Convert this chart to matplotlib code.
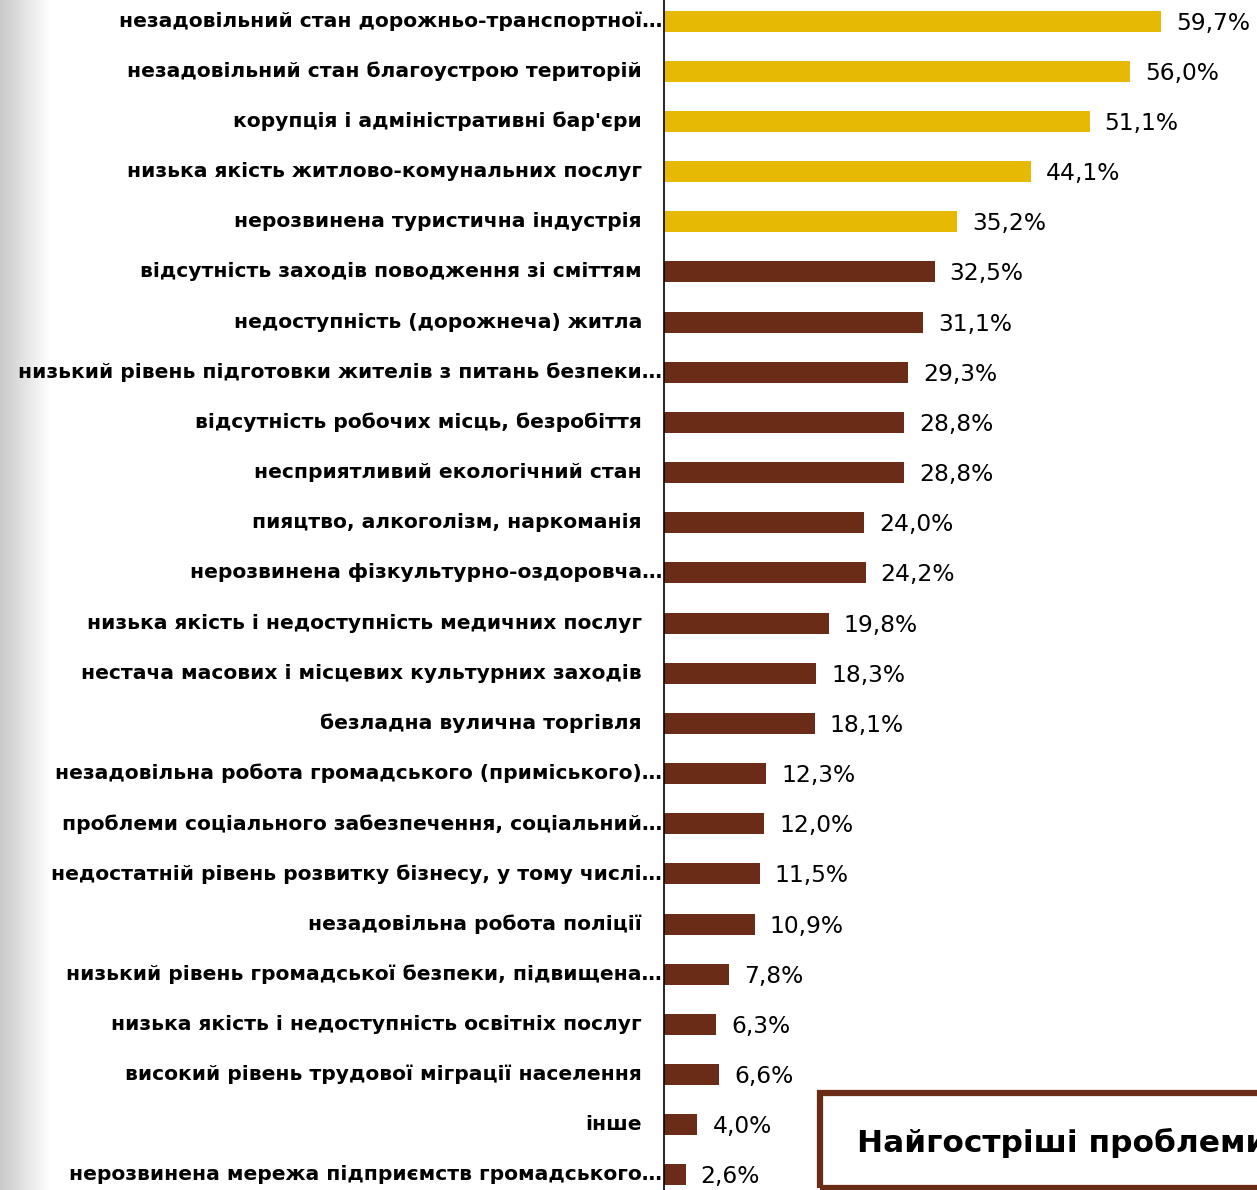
import numpy as np
import matplotlib.pyplot as plt
from matplotlib.patches import Rectangle

labels = [
    "незадовільний стан дорожньо-транспортної…",
    "незадовільний стан благоустрою територій",
    "корупція і адміністративні бар'єри",
    "низька якість житлово-комунальних послуг",
    "нерозвинена туристична індустрія",
    "відсутність заходів поводження зі сміттям",
    "недоступність (дорожнеча) житла",
    "низький рівень підготовки жителів з питань безпеки…",
    "відсутність робочих місць, безробіття",
    "несприятливий екологічний стан",
    "пияцтво, алкоголізм, наркоманія",
    "нерозвинена фізкультурно-оздоровча…",
    "низька якість і недоступність медичних послуг",
    "нестача масових і місцевих культурних заходів",
    "безладна вулична торгівля",
    "незадовільна робота громадського (приміського)…",
    "проблеми соціального забезпечення, соціальний…",
    "недостатній рівень розвитку бізнесу, у тому числі…",
    "незадовільна робота поліції",
    "низький рівень громадської безпеки, підвищена…",
    "низька якість і недоступність освітніх послуг",
    "високий рівень трудової міграції населення",
    "інше",
    "нерозвинена мережа підприємств громадського…",
]
values = [59.7, 56.0, 51.1, 44.1, 35.2, 32.5, 31.1, 29.3, 28.8, 28.8, 24.0, 24.2,
          19.8, 18.3, 18.1, 12.3, 12.0, 11.5, 10.9, 7.8, 6.3, 6.6, 4.0, 2.6]
top_n = 5  # first five bars highlighted
title = "Найгостріші проблеми"

yellow = "#E6B905"
brown = "#6B2C17"

fig = plt.figure(figsize=(12.57, 11.9), dpi=100)

# gray shade on the left edge
grad = fig.add_axes([0, 0, 0.04, 1])
g = np.linspace(0.74, 1.0, 200) ** 0.8
grad.imshow(g[None, :], cmap="gray", vmin=0, vmax=1, aspect="auto")
grad.axis("off")

ax = fig.add_axes([664 / 1257, 0, 1 - 664 / 1257, 1])
y = np.arange(len(values))
colors = [yellow if i < top_n else brown for i in y]
ax.barh(y, values, height=0.42, color=colors)
ax.set_xlim(0, 71.2)
ax.set_ylim(23.30, -0.42)

for s in ["top", "right", "bottom"]:
    ax.spines[s].set_visible(False)
ax.spines["left"].set_linewidth(1.2)
ax.set_xticks([])
ax.set_yticks([])

for i, (lab, v) in enumerate(zip(labels, values)):
    off = -2 if lab.endswith("…") else -22
    ax.annotate(lab, xy=(0, i), xytext=(off, 0), textcoords="offset pixels",
                ha="right", va="center", fontsize=14.6, fontweight="bold",
                family="DejaVu Sans", annotation_clip=False)
    ax.annotate(f"{v:.1f}%".replace(".", ","), xy=(v, i), xytext=(15, -2),
                textcoords="offset pixels", ha="left", va="center",
                fontsize=16.8, family="DejaVu Sans")

# title box bottom right
box = Rectangle((820 / 1257, 2 / 1190), 0.5, 95 / 1190, transform=fig.transFigure,
                fill=False, edgecolor=brown, linewidth=4.5)
fig.patches.append(box)
fig.text(857 / 1257, 1 - 1143 / 1190, title, ha="left", va="center",
         fontsize=22.5, fontweight="bold", family="DejaVu Sans")

fig.savefig("out.png", dpi=100)
